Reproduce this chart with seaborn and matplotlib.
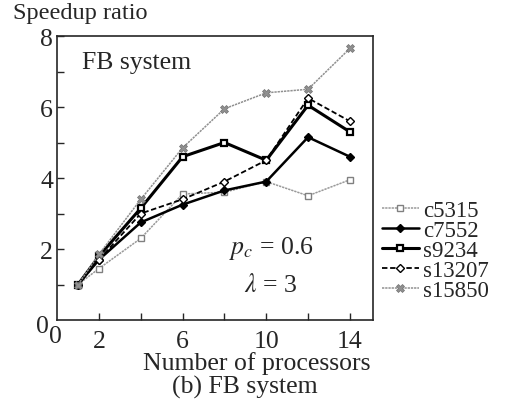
import numpy as np
import pandas as pd
import matplotlib
matplotlib.use("Agg")
import matplotlib.pyplot as plt
import seaborn as sns
from matplotlib.ticker import FixedLocator

processors = [1, 2, 4, 6, 8, 10, 12, 14]
c5315 = [1.0, 1.45, 2.3, 3.55, 3.6, 3.9, 3.5, 3.95]
c7552 = [1.0, 1.7, 2.75, 3.25, 3.65, 3.9, 5.15, 4.6]
s9234 = [1.0, 1.8, 3.15, 4.6, 5.0, 4.5, 6.05, 5.3]
s13207 = [1.0, 1.7, 3.0, 3.4, 3.9, 4.5, 6.25, 5.6]
s15850 = [1.0, 1.85, 3.4, 4.85, 5.95, 6.4, 6.5, 7.65]

series = {
    "c5315": c5315,
    "c7552": c7552,
    "s9234": s9234,
    "s13207": s13207,
    "s15850": s15850,
}

styles = {
    "c5315": dict(color="#999999", lw=1.1, ls=(0, (1.5, 0.6)), marker="s", ms=5, mfc="white", mec="#808080", mew=1.0),
    "c7552": dict(color="black", lw=1.8, ls="-", marker="D", ms=4, mfc="black", mec="black", mew=1.0),
    "s9234": dict(color="black", lw=2.2, ls="-", marker="s", ms=5, mfc="white", mec="black", mew=1.6),
    "s13207": dict(color="black", lw=1.3, ls=(0, (3, 1.5)), marker="D", ms=4.5, mfc="white", mec="black", mew=1.0),
    "s15850": dict(color="#909090", lw=1.1, ls=(0, (1.5, 0.6)), marker="X", ms=6, mfc="#909090", mec="#707070", mew=0.5),
}

sns.set_style("ticks")
plt.rcParams["font.family"] = ["Liberation Serif", "DejaVu Serif"]
plt.rcParams["mathtext.fontset"] = "stix"

FS = 18.5

fig = plt.figure(figsize=(5.15, 4.14), dpi=100)
ax = fig.add_axes([0.111, 0.2246, 0.613, 0.686])

for name, vals in series.items():
    df = pd.DataFrame({"x": processors, "y": vals})
    st = styles[name]
    sns.lineplot(data=df, x="x", y="y", ax=ax, label=name, color=st["color"],
                 linewidth=st["lw"], linestyle=st["ls"], marker=st["marker"],
                 markersize=st["ms"], markerfacecolor=st["mfc"],
                 markeredgecolor=st["mec"], markeredgewidth=st["mew"])

ax.set_xlim(0, 15.1)
ax.set_ylim(0, 8)
ax.xaxis.set_major_locator(FixedLocator([2, 6, 10, 14]))
ax.xaxis.set_minor_locator(FixedLocator([4, 8, 12]))
ax.yaxis.set_major_locator(FixedLocator([2, 4, 6, 8]))
ax.yaxis.set_minor_locator(FixedLocator([1, 3, 5, 7]))
ax.tick_params(which="both", direction="in", length=5, width=1, labelsize=FS)
ax.tick_params(axis="x", pad=7)
ax.tick_params(axis="y", pad=3)
for sp in ax.spines.values():
    sp.set_linewidth(1.2)
ax.set_xlabel("")
ax.set_ylabel("")

fig.text(0.025, 0.968, "Speedup ratio", fontsize=17.5, ha="left", va="center")
fig.text(0.082, 0.21, "0", fontsize=FS, ha="center", va="center")
fig.text(0.108, 0.186, "0", fontsize=FS, ha="center", va="center")
ax.text(1.2, 7.27, "FB system", fontsize=FS, ha="left", va="center")
ax.text(10.24, 2.05, r"$p_c$ = 0.6", fontsize=FS, ha="center", va="center")
ax.text(10.2, 1.0, r"$\lambda$ = 3", fontsize=FS, ha="center", va="center")
fig.text(0.499, 0.123, "Number of processors", fontsize=FS, ha="center", va="center")
fig.text(0.476, 0.063, "(b) FB system", fontsize=FS, ha="center", va="center")

ax.get_legend().remove()
handles, labels = ax.get_legend_handles_labels()
fig.legend(handles, labels, loc="center left", bbox_to_anchor=(0.742, 0.393),
           frameon=False, fontsize=16.5, handlelength=1.6, handletextpad=0.2,
           labelspacing=-0.05, borderaxespad=0, borderpad=0)

fig.savefig("out.png", dpi=100)
